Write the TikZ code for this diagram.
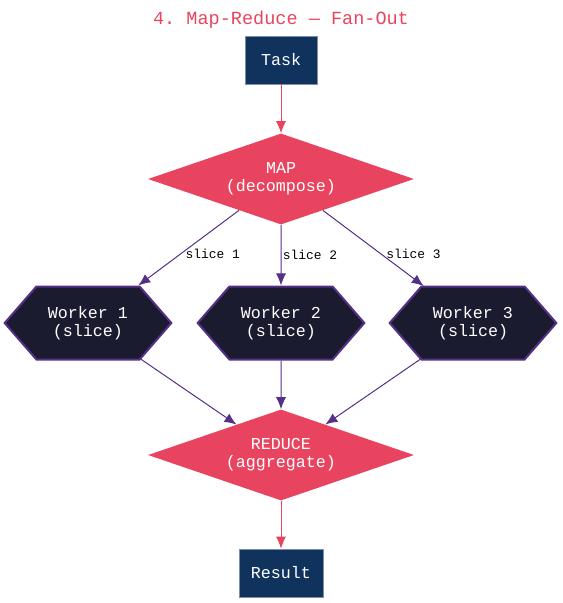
\documentclass[tikz,border=0pt]{standalone}
\usepackage{fontspec}
\setmonofont{Liberation Mono}
\usepackage{xcolor}
\usepackage{tikz}
\usetikzlibrary{arrows.meta,positioning,shapes.geometric,shapes.symbols}
\definecolor{mrpink}{HTML}{E8445F}
\definecolor{mrnavy}{HTML}{10335D}
\definecolor{mrink}{HTML}{1B1B2F}
\definecolor{mrpurple}{HTML}{553088}

\begin{document}
\begin{tikzpicture}[x=0.75pt,y=-0.75pt,>={Latex[length=9pt,width=7.5pt]}, every node/.style={font=\ttfamily\fontsize{12.5}{13.5}\selectfont}]
\tikzstyle{iobox}=[draw=mrnavy!55!white, line width=0.5pt, fill=mrnavy, text=white, minimum height=36pt, align=center]
\tikzstyle{split}=[diamond, aspect=2.92, fill=mrpink, text=white, minimum width=199.5pt, minimum height=68.25pt, inner sep=0pt, align=center]
\tikzstyle{worker}=[signal, signal to=west and east, signal pointer angle=98, draw=mrpurple, line width=1.5pt, fill=mrink, text=white, minimum width=125pt, minimum height=54.75pt, inner sep=0pt, align=center]
\tikzstyle{flow}=[->, mrpink, line width=0.75pt]
\tikzstyle{fan}=[->, mrpurple, line width=0.75pt]
\tikzstyle{tag}=[font=\ttfamily\fontsize{9.7}{11}\selectfont, text=black]
\useasboundingbox (0,0) rectangle (562,603);
\node[text=mrpink, font=\ttfamily\fontsize{13.9}{16}\selectfont] (title) at (281,20) {4. Map-Reduce — Fan-Out};
\node[iobox, minimum width=54pt] (task) at (281,60) {Task};
\node[split] (map) at (281,179) {MAP\\(decompose)};
\node[worker] (w1) at (88,323) {Worker 1\\(slice)};
\node[worker] (w2) at (281,323) {Worker 2\\(slice)};
\node[worker] (w3) at (473,323) {Worker 3\\(slice)};
\node[split] (reduce) at (281,455) {REDUCE\\(aggregate)};
\node[iobox, minimum width=63pt] (result) at (281,573) {Result};
\draw[flow] (task) -- (map);
\draw[fan] (map) -- node[tag, pos=0.58, right]{slice 1} (w1);
\draw[fan] (map) -- node[tag, pos=0.49, right, inner sep=1pt]{slice 2} (w2);
\draw[fan] (map) -- node[tag, pos=0.58, right]{slice 3} (w3);
\draw[fan] (w1) -- (reduce);
\draw[fan] (w2) -- (reduce);
\draw[fan] (w3) -- (reduce);
\draw[flow] (reduce) -- (result);
\end{tikzpicture}
\end{document}
